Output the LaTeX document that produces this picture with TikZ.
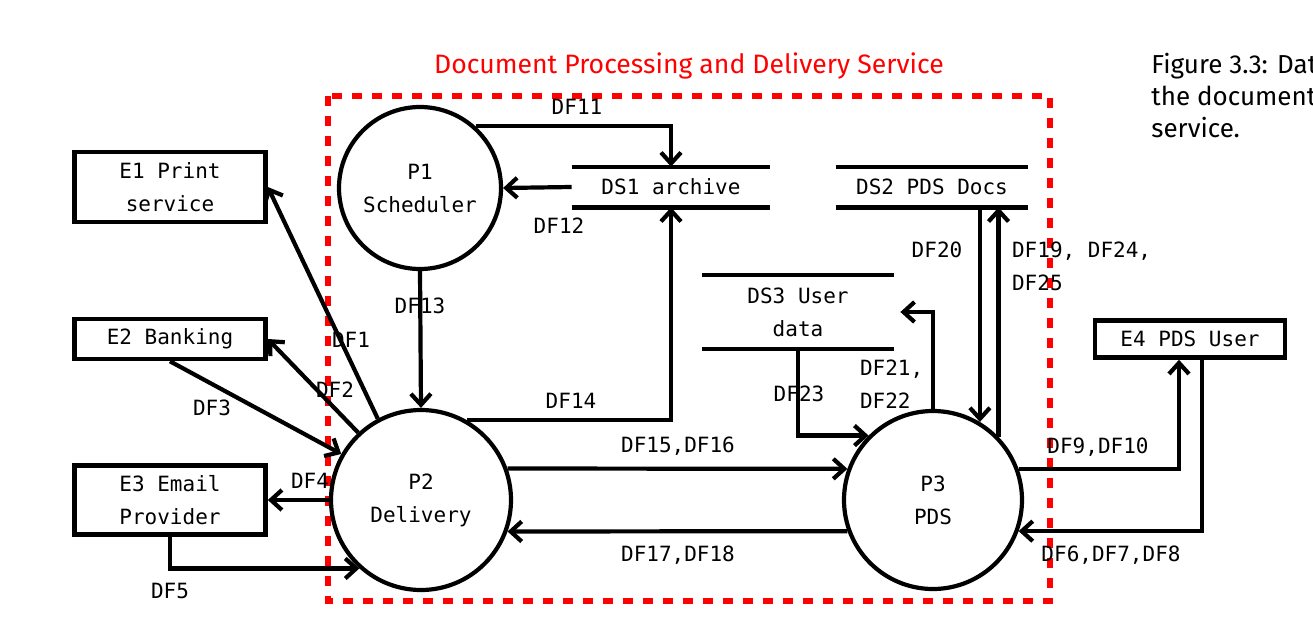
\documentclass[tikz,border=0pt]{standalone}
\usepackage{fontspec}
\setmonofont{DejaVu Sans Mono}
\newfontfamily\capfont{Fira Sans}
\usetikzlibrary{arrows.meta}
\newcommand\dfdfont{\ttfamily\fontsize{10.5}{16.5}\selectfont}

\begin{document}
\begin{tikzpicture}[>={Straight Barb[length=5.5pt,width=10pt]},x=0.5pt,y=-0.5pt,
    every node/.style={font=\dfdfont},
    proc/.style={draw,circle,line width=2.1pt,align=center},
    ext/.style={draw,line width=2.3pt,minimum width=95.5pt,align=center},
    store/.style={minimum height=20pt,align=center},
    flow/.style={->,line width=2.1pt}]
    \useasboundingbox (0,0) rectangle (1313,627);
    % service boundary
    \draw[red,line width=3pt,dash pattern=on 5pt off 5pt] (328,96) rectangle (1050,601);
    \node[red,font=\capfont\fontsize{13.3}{16}\selectfont] (title) at (689,66) {Document Processing and Delivery Service};
    \node[anchor=west,align=left,inner sep=0pt,font=\capfont\fontsize{13}{16}\selectfont] (cap) at (1151,96)
      {Figure 3.3: Dat\\the document\\service.};
    % processes
    \node[proc,minimum size=81pt] (p1) at (420,188) {P1\\Scheduler};
    \node[proc,minimum size=90pt] (p2) at (421,500) {P2\\Delivery};
    \node[proc,minimum size=89pt] (p3) at (933,500) {P3\\PDS};
    % external entities
    \node[ext,minimum height=35pt] (e1) at (170,187) {E1 Print\\service};
    \node[ext,minimum height=20pt] (e2) at (170,339) {E2 Banking};
    \node[ext,minimum height=34.5pt] (e3) at (170,500) {E3 Email\\Provider};
    \node[ext,minimum width=95pt,minimum height=18.5pt] (e4) at (1190,339) {E4 PDS User};
    % data stores
    \node[store,minimum width=99pt] (ds1) at (671,187) {DS1 archive};
    \node[store,minimum width=96pt] (ds2) at (932,187) {DS2 PDS Docs};
    \node[store,minimum width=96pt,minimum height=36.5pt] (ds3) at (798,312) {DS3 User\\data};
    \foreach \d in {ds1,ds2,ds3}
      \draw[line width=2.1pt] (\d.north west) -- (\d.north east) (\d.south west) -- (\d.south east);
    % flows
    \draw[flow] (p2.118) -- (e1.east);
    \draw[flow] (p2.133) -- (e2.east);
    \draw[flow] (e2.south) -- (p2.150);
    \draw[flow] (p2.west) -- (e3.east);
    \draw[flow] (e3.south) |- (p2.228);
    \draw[flow] (p1.48) -| (ds1.north);
    \draw[flow] (ds1.west) -- (p1.east);
    \draw[flow] (p1.south) -- (p2.north);
    \draw[flow] (p2.60) -| (ds1.south);
    \draw[flow] (p2.20) -- (p3.160);
    \draw[flow] (p3.200) -- (p2.340);
    \draw[flow] (ds2.south -| p3.59) -- (p3.59);
    \draw[flow] (p3.44) -- (p3.44 |- ds2.south);
    \draw[flow] (p3.north) |- ([xshift=3pt]ds3.east);
    \draw[flow] (ds3.south) |- (p3.135);
    \draw[flow] (p3.20) -| ([xshift=-5.5pt]e4.south);
    \draw[flow] ([xshift=6pt]e4.south) |- (p3.340);
    % flow labels
    \node (df1) at (351,340) {DF1};
    \node (df2) at (335,390) {DF2};
    \node (df3) at (212,408) {DF3};
    \node (df4) at (310,481) {DF4};
    \node (df5) at (170,591) {DF5};
    \node (df11) at (577,107) {DF11};
    \node (df12) at (559,226) {DF12};
    \node (df13) at (420,306) {DF13};
    \node (df14) at (571,401) {DF14};
    \node (df1516) at (678,446) {DF15,DF16};
    \node (df1718) at (678,555) {DF17,DF18};
    \node (df20) at (937,250) {DF20};
    \node[anchor=west,align=left] (df19) at (1005,266) {DF19, DF24,\\DF25};
    \node[anchor=west,align=left] (df21) at (853,384) {DF21,\\DF22};
    \node (df23) at (799,394) {DF23};
    \node (df910) at (1098,447) {DF9,DF10};
    \node (df678) at (1111,555) {DF6,DF7,DF8};
\end{tikzpicture}
\end{document}
